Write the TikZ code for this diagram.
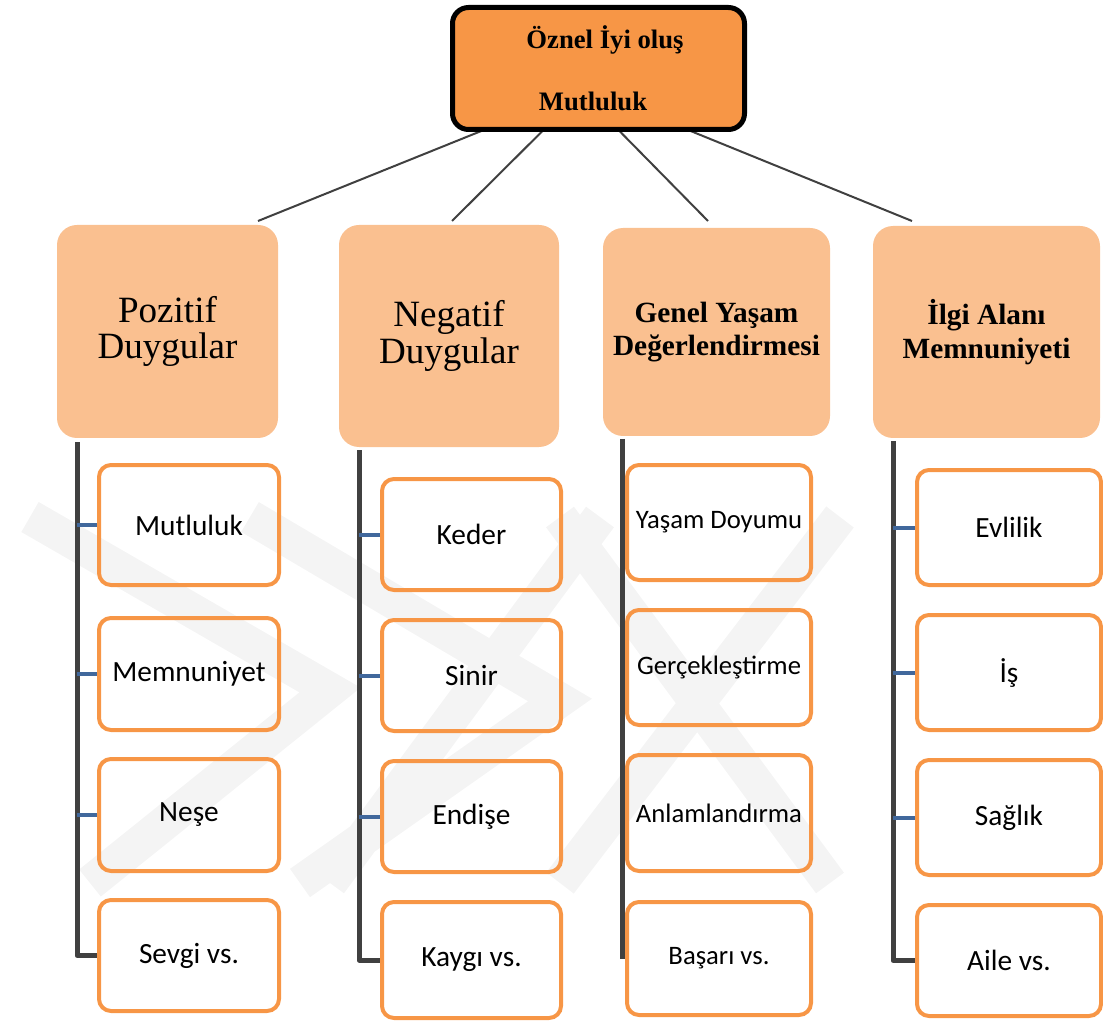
\documentclass[tikz,border=0pt]{standalone}
\usepackage{fontspec}
\setmainfont{Liberation Serif}
\newfontfamily\calibri{Carlito}
\usetikzlibrary{calc}
\pgfdeclarelayer{bg}
\pgfsetlayers{bg,main}
\definecolor{rootorange}{HTML}{F79646}
\definecolor{catfill}{HTML}{FAC090}
\definecolor{leafline}{HTML}{F79646}
\definecolor{stemcol}{HTML}{404040}
\definecolor{tickcol}{HTML}{41689C}
\definecolor{wmcol}{HTML}{F4F4F4}
\begin{document}
\begin{tikzpicture}[x=0.75pt,y=-0.75pt,
  box/.style 2 args={minimum width=#1*0.75pt, minimum height=#2*0.75pt, inner sep=0pt, outer sep=0pt},
  rootbox/.style={draw=black, line width=3.75pt, fill=rootorange, rounded corners=12pt},
  roottext/.style={anchor=base, inner sep=0pt, font=\bfseries\fontsize{20}{24}\selectfont},
  catbox/.style={fill=catfill, rounded corners=15pt, align=center},
  catreg/.style={font=\fontsize{27.8}{27.5}\selectfont},
  catbold/.style={font=\bfseries\fontsize{22}{25}\selectfont},
  leafbox/.style={draw=leafline, line width=3pt, rounded corners=9pt, align=center, font=\calibri\fontsize{22}{26}\selectfont},
  leafsmall/.style={font=\calibri\fontsize{20}{24}\selectfont},
  rootline/.style={draw=stemcol, line width=1.5pt},
  stemline/.style={draw=stemcol, line width=3.75pt, line join=round},
  tickline/.style={draw=tickcol, line width=3pt},
  wmline/.style={draw=wmcol, line width=26pt}
]
\useasboundingbox (0,0) rectangle (1103,1023);

% root
\node[rootbox, box={292}{122}] (root) at (598.5,68.5) {};
\node[roottext] (rt1) at (605,49) {Öznel İyi oluş};
\node[roottext] (rt2) at (593,111) {Mutluluk};

% categories
\node[catbox, catreg, box={221}{213}] (c1) at (167.5,331.5) {Pozitif\\Duygular};
\node[catbox, catreg, box={220}{222}] (c2) at (449,336) {Negatif\\Duygular};
\node[catbox, catbold, box={227}{208}] (c3) at (716.5,332) {Genel Yaşam\\Değerlendirmesi};
\node[catbox, catbold, box={227}{212}] (c4) at (986.5,332) {İlgi Alanı\\Memnuniyeti};

% leaves column 1
\node[leafbox, box={180}{120}] (l11) at (189,525) {Mutluluk};
\node[leafbox, box={180}{112}] (l12) at (189,674) {Memnuniyet};
\node[leafbox, box={180}{112}] (l13) at (189,815) {Neşe};
\node[leafbox, box={180}{111}] (l14) at (189,955.5) {Sevgi vs.};
% column 2
\node[leafbox, box={179}{111}] (l21) at (471.5,534.5) {Keder};
\node[leafbox, box={179}{111}] (l22) at (471.5,675.5) {Sinir};
\node[leafbox, box={179}{111}] (l23) at (471.5,816.5) {Endişe};
\node[leafbox, box={179}{116}] (l24) at (471.5,960) {Kaygı vs.};
% column 3
\node[leafbox, leafsmall, box={184}{115}] (l31) at (719,522.5) {Yaşam Doyumu};
\node[leafbox, leafsmall, box={184}{115}] (l32) at (719,667.5) {Gerçekleştirme};
\node[leafbox, leafsmall, box={184}{116}] (l33) at (719,813) {Anlamlandırma};
\node[leafbox, leafsmall, box={184}{113}] (l34) at (719,958.5) {Başarı vs.};
% column 4
\node[leafbox, box={184}{115}] (l41) at (1009,527.5) {Evlilik};
\node[leafbox, box={184}{115}] (l42) at (1009,672.5) {İş};
\node[leafbox, box={184}{115}] (l43) at (1009,817.5) {Sağlık};
\node[leafbox, box={184}{111}] (l44) at (1009,960.5) {Aile vs.};

% free ends and stem positions
\coordinate (e1) at (258,221);
\coordinate (e2) at (452,221);
\coordinate (e3) at (708,221);
\coordinate (e4) at (912,221);
\coordinate (s1) at (77,0);
\coordinate (s2) at (359,0);
\coordinate (s3) at (622.5,0);
\coordinate (s4) at (893,0);

\begin{pgfonlayer}{bg}
  % faint watermark
  \draw[wmline] (30,517) -- (330,690) -- (90,883)
                (250,517) -- (560,700) -- (300,883)
                (600,517) -- (330,883)
                (840,517) -- (560,883)
                (560,517) -- (830,883);
  % root connectors
  \draw[rootline] ($(root.south)+(-108.5,-2)$) -- (e1);
  \draw[rootline] ($(root.south)+(-52.5,-2)$) -- (e2);
  \draw[rootline] ($(root.south)+(17.5,-2)$) -- (e3);
  \draw[rootline] ($(root.south)+(83.5,-2)$) -- (e4);
  % stems
  \draw[stemline] ($(s1|-c1.south)+(0,4)$) -- (s1|-l14.west) -- (l14.west);
  \draw[stemline] ($(s2|-c2.south)+(0,3)$) -- (s2|-l24.west) -- (l24.west);
  \draw[stemline] ($(s3|-c3.south)+(0,3)$) -- (s3|-l34.west);
  \draw[stemline] ($(s4|-c4.south)+(0,3)$) -- (s4|-l44.west) -- (l44.west);
  % ticks
  \foreach \a/\b in {s1/l11,s1/l12,s1/l13,s2/l21,s2/l22,s2/l23,s4/l41,s4/l42,s4/l43}{
    \draw[tickline] (\a|-\b.west) -- (\b.west);
  }
\end{pgfonlayer}
\end{tikzpicture}
\end{document}
